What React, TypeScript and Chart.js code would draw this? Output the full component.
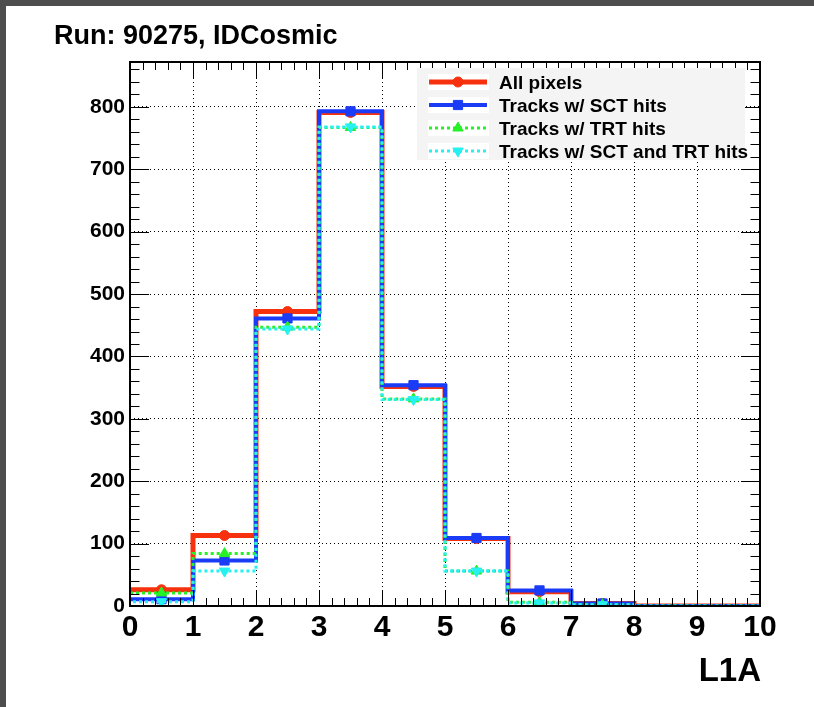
import React, { useEffect, useRef } from "react";
import { Chart, registerables } from "chart.js";
import { drawPoint } from "chart.js/helpers";

Chart.register(...registerables);

// ---- data ----
const l1aBins = [0, 1, 2, 3, 4, 5, 6, 7, 8, 9];
const allPixels = [26, 113, 472, 791, 352, 108, 23, 4, 0, 0];
const sctTracks = [11, 73, 461, 793, 354, 109, 25, 4, 0, 0];
const trtTracks = [21, 84, 447, 767, 332, 56, 6, 2, 0, 0];
const sctTrtTracks = [7, 56, 444, 768, 331, 56, 5, 2, 0, 0];
const seriesLabels = [
  "All pixels",
  "Tracks w/ SCT hits",
  "Tracks w/ TRT hits",
  "Tracks w/ SCT and TRT hits",
];
const xTickValues = [0, 1, 2, 3, 4, 5, 6, 7, 8, 9, 10];
const yTickValues = [0, 100, 200, 300, 400, 500, 600, 700, 800];
const xRange = [0, 10];
const yRange = [0, 872];
const titleText = "Run: 90275, IDCosmic";
const xTitleText = "L1A";

const FONT = "'Liberation Sans', Arial, Helvetica, sans-serif";

function histPoints(values: number[]) {
  const pts: { x: number; y: number }[] = [];
  values.forEach((v, i) => {
    pts.push({ x: l1aBins[i], y: v });
    pts.push({ x: l1aBins[i] + 0.5, y: v });
  });
  const last = values.length - 1;
  pts.push({ x: l1aBins[last] + 1, y: values[last] });
  return pts;
}

function markerRadius(r: number) {
  return (c: any) => (c.dataIndex % 2 === 1 && c.raw && c.raw.y > 0 ? r : 0);
}

const rootPlugin = {
  id: "rootStyle",
  afterDatasetsDraw(chart: any) {
    const { ctx, chartArea: a, scales } = chart;
    const xs = scales.x;
    const ys = scales.y;
    ctx.save();
    ctx.strokeStyle = "#000";
    ctx.lineWidth = 1;
    ctx.setLineDash([]);
    ctx.beginPath();
    // x ticks (inside, top and bottom)
    const xMin = xTickValues[0];
    const xMax = xTickValues[xTickValues.length - 1];
    for (let k = 0; k <= (xMax - xMin) * 5; k++) {
      const v = xMin + k * 0.2;
      const px = Math.round(xs.getPixelForValue(v)) + 0.5;
      const major = k % 5 === 0;
      const len = major ? 16 : 8;
      ctx.moveTo(px, a.bottom);
      ctx.lineTo(px, a.bottom - len);
      ctx.moveTo(px, a.top);
      ctx.lineTo(px, a.top + len);
    }
    // y ticks (inside, left and right)
    for (let v = yRange[0]; v <= yRange[1]; v += 20) {
      const py = Math.round(ys.getPixelForValue(v)) + 0.5;
      const major = v % 100 === 0;
      const len = major ? 19 : 9.5;
      ctx.moveTo(a.left, py);
      ctx.lineTo(a.left + len, py);
      ctx.moveTo(a.right, py);
      ctx.lineTo(a.right - len, py);
    }
    ctx.stroke();
    // frame
    ctx.lineWidth = 2;
    ctx.strokeRect(a.left, a.top, a.right - a.left, a.bottom - a.top);
    ctx.restore();
  },
  afterDraw(chart: any) {
    const { ctx, chartArea: a } = chart;
    ctx.save();
    ctx.fillStyle = "#000";
    // title
    ctx.font = `bold 27px ${FONT}`;
    ctx.textAlign = "left";
    ctx.textBaseline = "alphabetic";
    ctx.fillText(titleText, 54, 44);
    // x axis title
    ctx.font = `bold 33px ${FONT}`;
    ctx.textAlign = "right";
    ctx.fillText(xTitleText, a.right + 1, 681);

    // legend
    const bx = 417, by = 68, bw = 328, bh = 92;
    ctx.fillStyle = "#f4f4f4";
    ctx.fillRect(bx, by, bw, bh);
    const rows = [82, 105, 128, 151];
    chart.data.datasets.forEach((ds: any, i: number) => {
      if (!ds.label) return;
      const cy = rows[i];
      ctx.fillStyle = "#fff";
      ctx.fillRect(428, cy - 8, 61, 16);
      ctx.save();
      ctx.strokeStyle = ds.borderColor;
      ctx.lineWidth = ds.borderWidth;
      ctx.setLineDash(ds.borderDash || []);
      ctx.beginPath();
      ctx.moveTo(429, cy);
      ctx.lineTo(487, cy);
      ctx.stroke();
      ctx.restore();
      ctx.fillStyle = ds.borderColor;
      ctx.strokeStyle = ds.borderColor;
      ctx.lineWidth = 1;
      drawPoint(
        ctx,
        {
          pointStyle: ds.pointStyle,
          rotation: ds.pointRotation || 0,
          radius: ds.legendRadius,
          borderWidth: 1,
        },
        458,
        cy
      );
      ctx.fillStyle = "#000";
      ctx.font = `bold 19px ${FONT}`;
      ctx.textAlign = "left";
      ctx.textBaseline = "alphabetic";
      ctx.fillText(ds.label, 499, cy + 7);
    });
    ctx.restore();
  },
};

export default function App() {
  const ref = useRef<HTMLCanvasElement>(null);

  useEffect(() => {
    document.body.style.margin = "0";
    const canvas = ref.current;
    if (!canvas) return;

    const mk = (
      label: string,
      values: number[],
      color: string,
      width: number,
      dash: number[],
      dashOffset: number,
      style: string,
      radius: number,
      rotation: number,
      order: number
    ) => ({
      label,
      data: histPoints(values),
      borderColor: color,
      backgroundColor: color,
      borderWidth: width,
      borderDash: dash,
      borderDashOffset: dashOffset,
      stepped: "before",
      fill: false,
      pointStyle: style,
      pointRotation: rotation,
      pointRadius: markerRadius(radius),
      pointHoverRadius: markerRadius(radius),
      pointBackgroundColor: color,
      pointBorderColor: color,
      pointBorderWidth: 1,
      legendRadius: radius,
      order,
    });

    const chart = new Chart(canvas, {
      type: "line",
      data: {
        datasets: [
          mk(seriesLabels[0], allPixels, "#f7310d", 5, [], 0, "circle", 5, 0, 3),
          mk(seriesLabels[1], sctTracks, "#1a3cf7", 4, [], 0, "rect", 6.5, 0, 2),
          mk(seriesLabels[2], trtTracks, "#26f026", 3, [3, 3], 0, "triangle", 6, 0, 1),
          mk(seriesLabels[3], sctTrtTracks, "#26f0f0", 3, [3, 3], 3, "triangle", 6, 180, 0),
          {
            label: "",
            data: [
              { x: xRange[0], y: 0 },
              { x: xRange[1], y: 0 },
            ],
            borderColor: "#f7310d",
            borderWidth: 1.5,
            pointRadius: 0,
            fill: false,
            order: 4,
          } as any,
        ] as any,
      },
      options: {
        animation: false,
        responsive: false,
        maintainAspectRatio: false,
        devicePixelRatio: 1,
        layout: { padding: { left: 0, right: 54, top: 62, bottom: 0 } },
        plugins: {
          legend: { display: false },
          tooltip: { enabled: false },
          title: { display: false },
        },
        scales: {
          x: {
            type: "linear",
            min: xRange[0],
            max: xRange[1],
            afterBuildTicks: (s: any) => {
              s.ticks = xTickValues.map((v) => ({ value: v }));
            },
            afterFit: (s: any) => {
              s.height = 101;
            },
            ticks: {
              color: "#000",
              font: { family: FONT, size: 30, weight: "bold" },
              padding: 4,
              maxRotation: 0,
              autoSkip: false,
            },
            grid: { color: "#000", lineWidth: 1, drawTicks: false },
            border: { display: false, dash: [1, 3] },
          },
          y: {
            type: "linear",
            min: yRange[0],
            max: yRange[1],
            afterBuildTicks: (s: any) => {
              s.ticks = yTickValues.map((v) => ({ value: v }));
            },
            afterFit: (s: any) => {
              s.width = 130;
            },
            ticks: {
              color: "#000",
              font: { family: FONT, size: 21, weight: "bold" },
              padding: 5,
              autoSkip: false,
            },
            grid: { color: "#000", lineWidth: 1, drawTicks: false },
            border: { display: false, dash: [1, 3] },
          },
        },
      } as any,
      plugins: [rootPlugin],
    });
    return () => chart.destroy();
  }, []);

  return (
    <div style={{ position: "relative", width: 814, height: 707, background: "#fff", overflow: "hidden" }}>
      <canvas ref={ref} width={814} height={707} style={{ position: "absolute", left: 0, top: 0 }} />
      <div style={{ position: "absolute", left: 0, top: 0, width: 814, height: 6, background: "#4d4d4d" }} />
      <div style={{ position: "absolute", left: 0, top: 0, width: 6, height: 707, background: "#4d4d4d" }} />
    </div>
  );
}
